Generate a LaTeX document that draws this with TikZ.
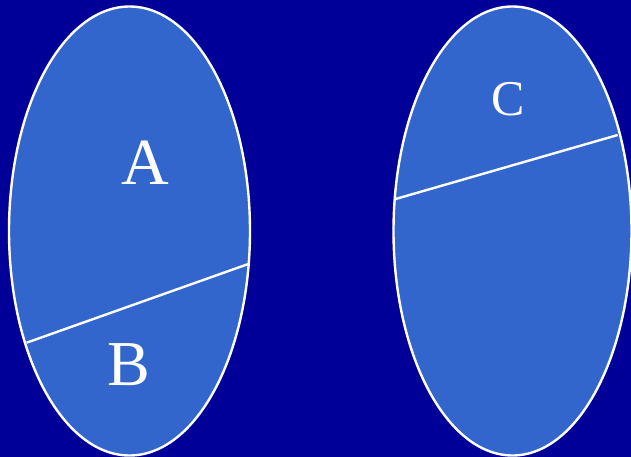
\documentclass[tikz,border=0pt]{standalone}
\usepackage{fontspec}
\setmainfont{Liberation Serif}
\definecolor{bgblue}{HTML}{000099}
\definecolor{setblue}{HTML}{3366CC}
\begin{document}
\begin{tikzpicture}[x=1pt,y=-1pt,
  setshape/.style={fill=setblue,draw=white,line width=2.4pt},
  divider/.style={draw=white,line width=2.4pt},
  lbl/.style={text=white,anchor=base,inner sep=0pt}]
\useasboundingbox (0,0) rectangle (631,457);
\fill[bgblue] (0,0) rectangle (631,457);
\begin{scope}
\clip (0,0) rectangle (631,457);
\path[setshape] (129.5,231) ellipse [x radius=120.5, y radius=224.5];
\path[setshape] (512.5,231) ellipse [x radius=119, y radius=224.5];
\end{scope}
\coordinate (l1) at (26.6,342.7);
\coordinate (l2) at (248.3,264);
\coordinate (r1) at (395.6,199);
\coordinate (r2) at (617.7,135);
\draw[divider] (l1) -- (l2);
\draw[divider] (r1) -- (r2);
\node[lbl,font=\fontsize{66}{66}\selectfont] (A) at (145,185) {A};
\node[lbl,font=\fontsize{64}{64}\selectfont] (B) at (128.5,385) {B};
\node[lbl,font=\fontsize{50}{50}\selectfont] (C) at (508.5,116) {C};
\end{tikzpicture}
\end{document}
